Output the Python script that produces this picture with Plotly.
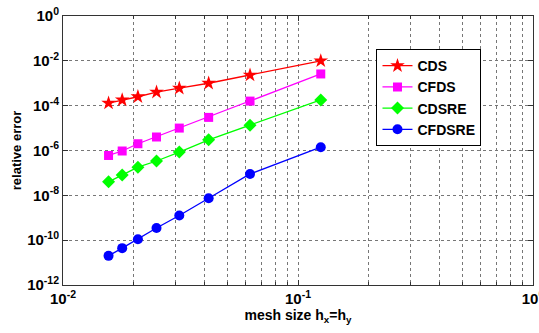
import plotly.graph_objects as go

h = [1/8, 1/16, 1/24, 1/32, 1/40, 1/48, 1/56, 1/64]
cds = [1.0e-2, 2.3e-3, 1.0e-3, 6.0e-4, 4.0e-4, 2.5e-4, 1.8e-4, 1.3e-4]
cfds = [2.6e-3, 1.6e-4, 3.0e-5, 1.0e-5, 4.0e-6, 2.0e-6, 9.5e-7, 6.0e-7]
cdsre = [1.8e-4, 1.35e-5, 3.0e-6, 8.5e-7, 3.4e-7, 1.8e-7, 8.0e-8, 4.0e-8]
cfdsre = [1.4e-6, 9.0e-8, 7.4e-9, 1.26e-9, 3.5e-10, 1.1e-10, 4.4e-11, 2.0e-11]

names = ["CDS", "CFDS", "CDSRE", "CFDSRE"]
colors = ["#ff0000", "#ff00ff", "#00ff00", "#0000ff"]
symbols = ["star", "square", "diamond", "circle"]
sizes = [11, 9, 10, 10]
series = [cds, cfds, cdsre, cfdsre]

x_ticks = [0.01, 0.1, 1]
x_ticktext = ["10<sup>-2</sup>", "10<sup>-1</sup>", "10<sup>0</sup>"]
x_minor = [m * d for d in (0.01, 0.1) for m in range(2, 10)]
y_ticks = [10.0 ** e for e in range(-12, 1, 2)]
y_ticktext = ["10<sup>%d</sup>" % e for e in range(-12, 1, 2)]

fig = go.Figure()
for n, c, s, sz, ys in zip(names, colors, symbols, sizes, series):
    fig.add_trace(go.Scatter(
        x=h, y=ys, name=n, mode="lines+markers",
        line=dict(color=c, width=1.3),
        marker=dict(symbol=s, size=sz, color=c, line=dict(width=0)),
    ))

font = dict(family="Liberation Sans, Arial", size=13, color="black", weight="bold")

fig.update_layout(
    width=539, height=333,
    margin=dict(l=63, r=6, t=16, b=48, autoexpand=False),
    paper_bgcolor="white", plot_bgcolor="white",
    font=font,
    showlegend=True,
    legend=dict(
        x=0.667, y=0.877, xanchor="left", yanchor="top",
        bordercolor="black", borderwidth=1, bgcolor="white",
        font=dict(family="Liberation Sans, Arial", size=14, color="black", weight="bold"),
        tracegroupgap=0, itemwidth=30,
    ),
    xaxis=dict(
        type="log", range=[-2, 0], automargin=False,
        tickmode="array", tickvals=x_ticks, ticktext=x_ticktext,
        ticklabeloverflow="allow",
        showgrid=True, gridcolor="#777", griddash="dot", gridwidth=1,
        ticks="inside", ticklen=5, tickcolor="#333",
        showline=True, linecolor="#333", linewidth=1, mirror="ticks",
        minor=dict(tickmode="array", tickvals=x_minor, showgrid=True,
                   gridcolor="#777", griddash="dot", ticks="inside",
                   ticklen=3, tickcolor="#333"),
        title=dict(text="mesh size h<sub>x</sub>=h<sub>y</sub>", standoff=3,
                   font=dict(size=14)),
        tickfont=dict(size=15),
        zeroline=False,
    ),
    yaxis=dict(
        type="log", range=[-12, 0], automargin=False,
        tickmode="array", tickvals=y_ticks, ticktext=y_ticktext,
        showgrid=True, gridcolor="#777", griddash="dot", gridwidth=1,
        ticks="inside", ticklen=5, tickcolor="#333",
        showline=True, linecolor="#333", linewidth=1, mirror="ticks",
        title=dict(text="relative error", standoff=2, font=dict(size=13)),
        tickfont=dict(size=15),
        zeroline=False,
    ),
)

fig.write_html("out.html")
